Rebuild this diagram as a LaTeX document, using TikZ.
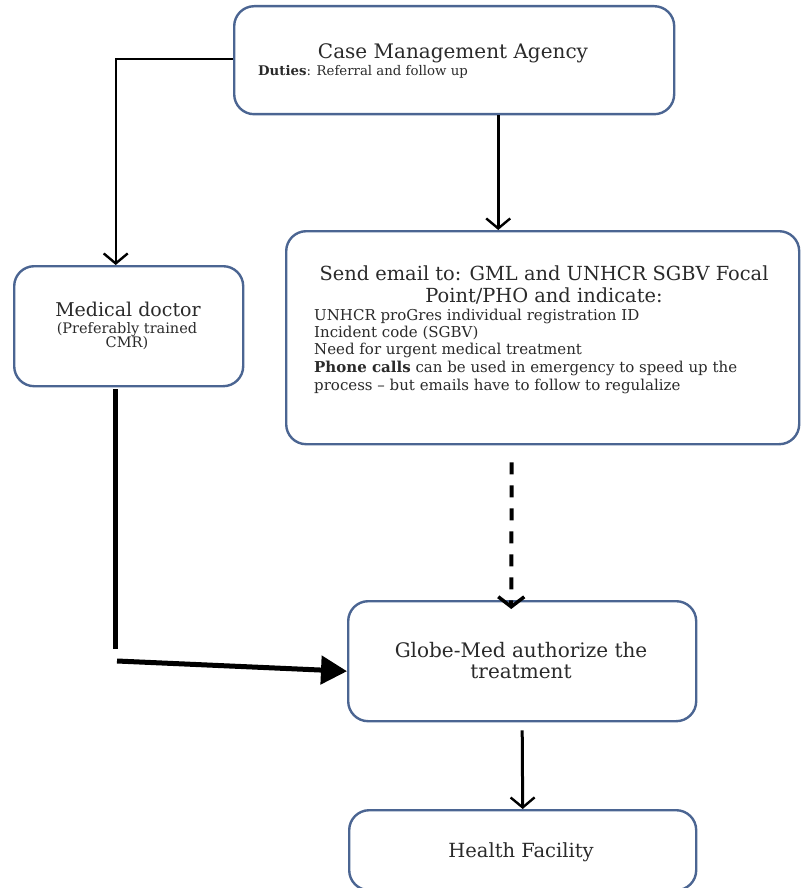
\documentclass[tikz,border=0pt]{standalone}
\usepackage{fontspec}
\setmainfont{DejaVu Serif}
\usetikzlibrary{arrows.meta,calc}
\definecolor{boxc}{HTML}{4B6592}
\definecolor{txtc}{HTML}{2A2A2A}
\begin{document}
\begin{tikzpicture}[x=1pt,y=-1pt,
  box/.style={draw=boxc, line width=2.4pt, rounded corners=20pt, inner sep=0pt, anchor=north west},
  lbl/.style={inner sep=0pt, text=txtc},
  vtip/.style={-{Straight Barb[length=10pt,width=24pt,line width=2.4pt]}},
  thinconn/.style={line width=2.4pt, draw=black},
  midconn/.style={line width=3pt, draw=black},
  thickconn/.style={line width=5pt, draw=black},
  dashconn/.style={line width=4pt, draw=black, dash pattern=on 12pt off 11pt}
]
\useasboundingbox (0,0) rectangle (801,888);

% boxes
\node[box, minimum width=440pt, minimum height=108pt] (cma) at (233,5) {};
\node[box, minimum width=229pt, minimum height=120pt] (md) at (13,265) {};
\node[box, minimum width=513pt, minimum height=213pt] (se) at (285,230) {};
\node[box, minimum width=348pt, minimum height=120pt] (gm) at (347,600) {};
\node[box, minimum width=347pt, minimum height=80pt] (hf) at (348,809) {};

% texts
\node[lbl, anchor=base, font=\fontsize{20}{24}\selectfont] (cmat) at (453,59) {Case Management Agency};
\node[lbl, anchor=base west, font=\fontsize{13.3}{16}\selectfont] (duties) at (258,76) {\textbf{Duties}: Referral and follow up};

\node[lbl, anchor=base, font=\fontsize{19}{23}\selectfont] (mdt1) at (128,316) {Medical doctor};
\node[lbl, anchor=base, font=\fontsize{14.5}{17}\selectfont] (mdt2) at (127,333) {(Preferably trained};
\node[lbl, anchor=base, font=\fontsize{14.5}{17}\selectfont] (mdt3) at (127,347) {CMR)};

\node[lbl, anchor=base, font=\fontsize{19.4}{23}\selectfont] (set1) at (544,280) {Send email to: GML and UNHCR SGBV Focal};
\node[lbl, anchor=base, font=\fontsize{19.4}{23}\selectfont] (set2) at (544,302) {Point/PHO and indicate:};
\node[lbl, anchor=base west, font=\fontsize{15}{18}\selectfont] (seb1) at (314,320) {UNHCR proGres individual registration ID};
\node[lbl, anchor=base west, font=\fontsize{15}{18}\selectfont] (seb2) at (314,337) {Incident code (SGBV)};
\node[lbl, anchor=base west, font=\fontsize{15}{18}\selectfont] (seb3) at (314,354) {Need for urgent medical treatment};
\node[lbl, anchor=base west, font=\fontsize{15}{18}\selectfont] (seb4) at (314,372) {\textbf{Phone calls} can be used in emergency to speed up the};
\node[lbl, anchor=base west, font=\fontsize{15}{18}\selectfont] (seb5) at (314,390) {process -- but emails have to follow to regulalize};

\node[lbl, anchor=base, font=\fontsize{20}{24}\selectfont] (gmt1) at (521,657) {Globe-Med authorize the};
\node[lbl, anchor=base, font=\fontsize{20}{24}\selectfont] (gmt2) at (521,678) {treatment};

\node[lbl, anchor=base, font=\fontsize{19.5}{23}\selectfont] (hft) at (521,857) {Health Facility};

% connectors
\coordinate (mdtop) at ($(md.north)+(-13,0)$);
\draw[thinconn, vtip] ($(cma.west)+(0,-1)$) -| (mdtop);
\coordinate (cmabot) at ($(cma.south)+(44,0)$);
\draw[midconn, vtip] (cmabot) -- (cmabot |- se.north);
\coordinate (mdbot) at ($(md.south)+(-13,2)$);
\coordinate (mdend) at ($(mdbot)+(0,260)$);
\draw[thickconn] (mdbot) -- (mdend);
\coordinate (hstart) at (117,661);
\draw[thickconn, -{Triangle[length=26pt,width=28pt]}] (hstart) -- ($(gm.west)+(0,10)$);
\coordinate (dstart) at ($(se.south)+(-31,17)$);
\draw[dashconn, -{Straight Barb[length=10pt,width=26pt,line width=3.5pt]}] (dstart) -- ($(gm.north)+(-11,9)$);
\draw[midconn, vtip] ($(gm.south)+(0,8)$) -- (hf.north);
\end{tikzpicture}
\end{document}
